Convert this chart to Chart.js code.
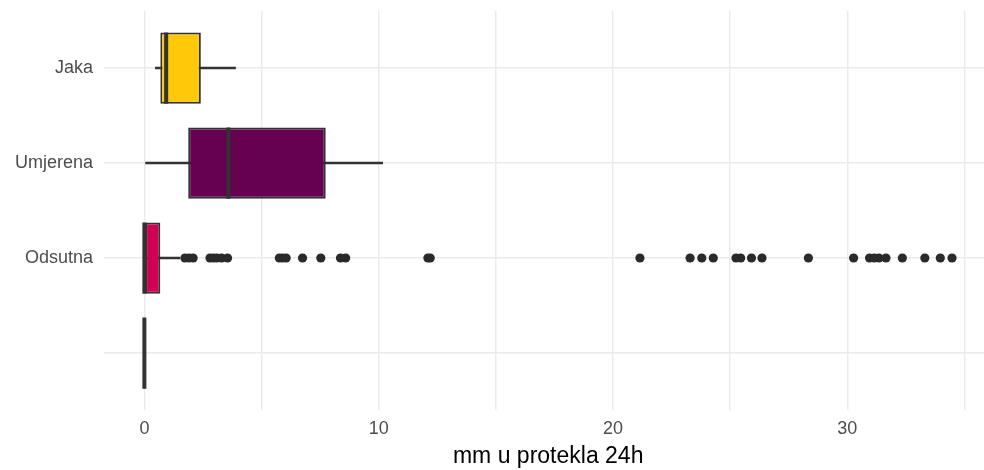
<!DOCTYPE html>
<html>
<head>
<meta charset="utf-8">
<script src="https://cdn.jsdelivr.net/npm/chart.js@4.4.0/dist/chart.umd.min.js"></script>
<style>
  html, body { margin: 0; padding: 0; background: #fff; overflow: hidden; }
  /* ggplot panel runs a bit past the right edge of the picture */
  #wrap { width: 997px; height: 470px; }
</style>
</head>
<body>
<div id="wrap"><canvas id="chart"></canvas></div>
<script>
// categories, top to bottom
const categories = ['Jaka', 'Umjerena', 'Odsutna', ''];

// box statistics per category (mm)
const whiskerLow  = [0.47, 0.05, 0.00, 0];
const lowerQ      = [0.68, 1.87, 0.00, 0];
const medians     = [0.93, 3.59, 0.00, 0];
const upperQ      = [2.41, 7.74, 0.68, 0];
const whiskerHigh = [3.89, 10.17, 1.51, 0];

// outliers (all belong to "Odsutna")
const outliersOdsutna = [
  1.73, 1.90, 2.08, 2.80, 2.95, 3.10, 3.30, 3.55,
  5.76, 5.90, 6.05, 6.75, 7.53, 8.37, 8.59, 12.10, 12.20,
  21.15, 23.29, 23.79, 24.28, 25.25, 25.45, 25.91, 26.36, 28.34,
  30.27, 30.95, 31.15, 31.35, 31.65, 32.35, 33.31, 33.97, 34.47
];

const gridTicks  = [0, 5, 10, 15, 20, 25, 30, 35];
const labelTicks = [0, 10, 20, 30];

const boxColors = ['#FFC90A', '#660050', '#D20055', '#999999'];
const INK = '#333333';
const BOX_WIDTH = 0.75;

// category i sits at position n - i on the numeric y axis (top = first)
const pos = i => categories.length - i;
const dataMax = Math.max(...whiskerHigh, ...outliersOdsutna);

const medianPoints = [];
medians.forEach((m, i) => {
  medianPoints.push({ x: m, y: pos(i) - BOX_WIDTH / 2 });
  medianPoints.push({ x: m, y: pos(i) + BOX_WIDTH / 2 });
  medianPoints.push({ x: NaN, y: NaN });
});

const tickFont = { family: '"Liberation Sans", Arial, sans-serif', size: 18 };

new Chart(document.getElementById('chart'), {
  type: 'bar',
  data: {
    datasets: [
      {
        type: 'line',
        data: medianPoints,
        borderColor: INK,
        borderWidth: 4,
        pointRadius: 0,
        spanGaps: false,
        order: 0
      },
      {
        type: 'scatter',
        data: outliersOdsutna.map(v => ({ x: v, y: pos(2) })),
        backgroundColor: '#2a2a2a',
        borderWidth: 0,
        pointRadius: 4.6,
        order: 1
      },
      {
        data: categories.map((c, i) => ({ x: [lowerQ[i], upperQ[i]], y: pos(i) })),
        backgroundColor: boxColors,
        borderColor: INK,
        borderWidth: 2,
        borderSkipped: false,
        barPercentage: BOX_WIDTH,
        categoryPercentage: 1,
        grouped: false,
        order: 2
      },
      {
        data: categories.map((c, i) => ({ x: [whiskerLow[i], whiskerHigh[i]], y: pos(i) })),
        backgroundColor: INK,
        borderWidth: 0,
        barThickness: 2,
        grouped: false,
        order: 3
      }
    ]
  },
  options: {
    indexAxis: 'y',
    responsive: true,
    maintainAspectRatio: false,
    animation: false,
    layout: { padding: { top: 11, right: 0, bottom: 0, left: 0 } },
    plugins: { legend: { display: false }, tooltip: { enabled: false } },
    scales: {
      x: {
        type: 'linear',
        min: -0.05 * dataMax,
        max: dataMax * 1.05,
        afterBuildTicks: s => { s.ticks = gridTicks.map(v => ({ value: v })); },
        afterFit: s => { s.height = 60; },
        ticks: {
          font: tickFont,
          color: '#4D4D4D',
          padding: 8,
          maxRotation: 0,
          autoSkip: false,
          callback: v => labelTicks.includes(v) ? String(v) : ''
        },
        grid: { color: '#EBEBEB', lineWidth: 1.5, drawTicks: false },
        border: { display: false },
        title: {
          display: true,
          text: 'mm u protekla 24h',
          color: '#000',
          font: { family: '"Liberation Sans", Arial, sans-serif', size: 23 },
          padding: { top: 0, bottom: 0 }
        }
      },
      y: {
        type: 'linear',
        offset: false,
        min: 0.4,
        max: categories.length + 0.6,
        afterBuildTicks: s => { s.ticks = categories.map((c, i) => ({ value: pos(i) })); },
        afterFit: s => { s.width = 104; s.paddingTop = 0; s.paddingBottom = 0; },
        ticks: {
          font: tickFont,
          color: '#4D4D4D',
          padding: 11,
          autoSkip: false,
          callback: v => categories[categories.length - v]
        },
        grid: { color: '#EBEBEB', lineWidth: 1.5, drawTicks: false, offset: false },
        border: { display: false }
      }
    }
  }
});
</script>
</body>
</html>
